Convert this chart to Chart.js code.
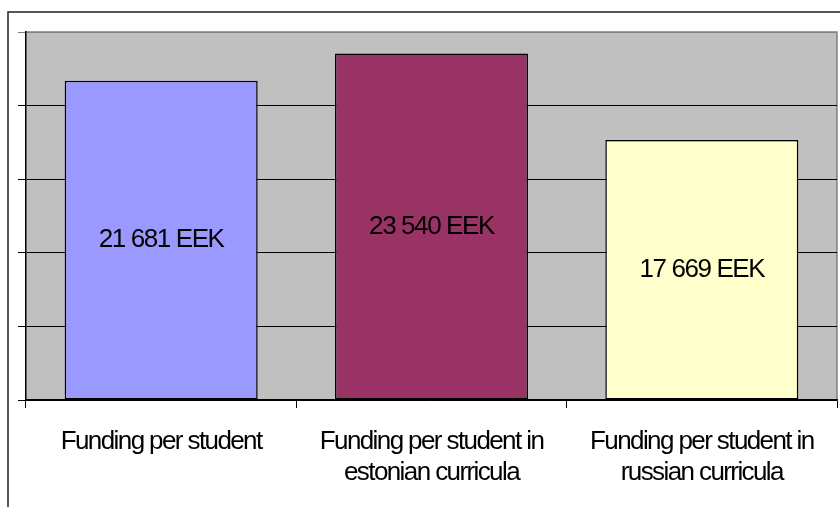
<!DOCTYPE html>
<html>
<head>
<meta charset="utf-8">
<script src="https://cdn.jsdelivr.net/npm/chart.js@4/dist/chart.umd.min.js"></script>
<style>
  html, body { margin: 0; padding: 0; background: #ffffff; }
  #wrap { width: 840px; height: 507px; position: relative; }
</style>
</head>
<body>
<div id="wrap"><canvas id="c" width="840" height="507"></canvas></div>
<script>
const categories = [
  ["Funding per student"],
  ["Funding per student in", "estonian curricula"],
  ["Funding per student in", "russian curricula"]
];
const values = [21681, 23540, 17669];
const valueLabels = ["21 681 EEK", "23 540 EEK", "17 669 EEK"];
const barColors = ["#9999FF", "#993366", "#FFFFCC"];
const yMin = 0, yMax = 25000, yStep = 5000;

const FONT = "'Liberation Sans', Arial, sans-serif";

const framePlugin = {
  id: 'frame',
  beforeLayout(chart) {
    chart.ctx.letterSpacing = '-1.6px';
  },
  beforeDraw(chart) {
    const ctx = chart.ctx;
    const a = chart.chartArea;
    ctx.save();
    ctx.fillStyle = '#ffffff';
    ctx.fillRect(0, 0, chart.width, chart.height);
    // outer chart frame (extends past right/bottom edges)
    ctx.strokeStyle = '#222222';
    ctx.lineWidth = 1.5;
    ctx.beginPath();
    ctx.moveTo(8, chart.height + 5);
    ctx.lineTo(8, 12);
    ctx.lineTo(chart.width + 5, 12);
    ctx.stroke();
    // plot area background
    ctx.fillStyle = '#C0C0C0';
    ctx.fillRect(a.left, a.top, a.right - a.left, a.bottom - a.top);
    // plot area border (top and right)
    ctx.strokeStyle = '#808080';
    ctx.lineWidth = 1.5;
    ctx.beginPath();
    ctx.moveTo(a.left, a.top);
    ctx.lineTo(a.right, a.top);
    ctx.lineTo(a.right, a.bottom);
    ctx.stroke();
    ctx.restore();
    ctx.letterSpacing = '-1.6px';
  }
};

const labelPlugin = {
  id: 'barLabels',
  afterDatasetsDraw(chart) {
    const ctx = chart.ctx;
    const meta = chart.getDatasetMeta(0);
    ctx.save();
    ctx.letterSpacing = '-1.4px';
    ctx.font = '26px ' + FONT;
    ctx.fillStyle = '#000000';
    ctx.textAlign = 'center';
    ctx.textBaseline = 'middle';
    meta.data.forEach((bar, i) => {
      const p = bar.getProps(['x', 'y', 'base'], true);
      ctx.fillText(valueLabels[i], p.x, (p.y + p.base) / 2);
    });
    ctx.restore();
  }
};

new Chart(document.getElementById('c'), {
  type: 'bar',
  data: {
    labels: categories,
    datasets: [{
      data: values,
      backgroundColor: barColors,
      borderColor: '#000000',
      borderWidth: 1.5,
      borderSkipped: false,
      barPercentage: 0.714,
      categoryPercentage: 1.0
    }]
  },
  options: {
    responsive: false,
    animation: false,
    devicePixelRatio: 1,
    layout: { padding: { left: 18, right: 3, top: 32, bottom: 10 } },
    plugins: {
      legend: { display: false },
      title: { display: false },
      tooltip: { enabled: false }
    },
    scales: {
      x: {
        offset: true,
        grid: {
          offset: true,
          drawOnChartArea: false,
          drawTicks: true,
          tickLength: 8,
          color: '#000000',
          lineWidth: 1
        },
        border: { display: true, color: '#000000', width: 1.5 },
        ticks: {
          color: '#000000',
          font: { family: FONT, size: 26 },
          lineHeight: 1.077,
          padding: 18,
          maxRotation: 0,
          autoSkip: false
        },
        afterFit(scale) {
          scale.height = 97;
          scale.paddingLeft = 0;
          scale.paddingRight = 0;
        }
      },
      y: {
        min: yMin,
        max: yMax,
        ticks: { display: false, stepSize: yStep },
        grid: {
          drawTicks: true,
          tickLength: 8,
          color: (c) => (c.tick && c.tick.value === yMax) ? '#808080' : '#000000',
          lineWidth: 1
        },
        border: { display: true, color: '#000000', width: 1.5 }
      }
    }
  },
  plugins: [framePlugin, labelPlugin]
});
</script>
</body>
</html>
